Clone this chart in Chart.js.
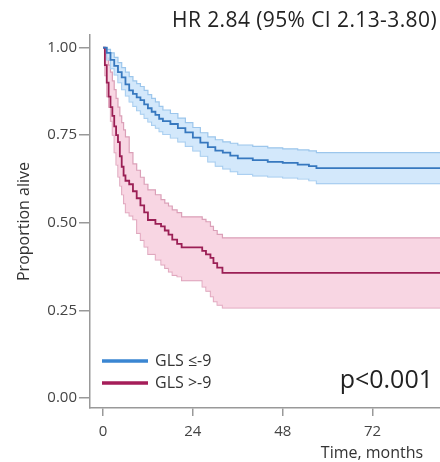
<!DOCTYPE html>
<html>
<head>
<meta charset="utf-8">
<script src="https://cdn.jsdelivr.net/npm/chart.js@4/dist/chart.umd.min.js"></script>
<style>
  html, body { margin: 0; padding: 0; background: #fff; }
  #km { display: block; }
</style>
</head>
<body>
<canvas id="km" width="440" height="462"></canvas>
<script>
// GLS <= -9 (blue)
const blueTime  = [0, 1, 2, 3, 4, 5, 6, 7, 8, 9, 10, 11, 12, 13, 14, 15, 16, 18, 20, 22, 24, 26, 28, 30, 32, 34, 36, 40, 44, 48, 52, 55, 57, 90];
const blueSurv  = [1, 0.985, 0.965, 0.948, 0.93, 0.915, 0.895, 0.878, 0.868, 0.858, 0.85, 0.838, 0.827, 0.817, 0.808, 0.797, 0.79, 0.782, 0.77, 0.758, 0.743, 0.729, 0.716, 0.706, 0.70, 0.692, 0.684, 0.679, 0.674, 0.671, 0.666, 0.662, 0.656, 0.656];
const blueUpper = [1, 0.995, 0.985, 0.972, 0.957, 0.943, 0.93, 0.917, 0.905, 0.897, 0.889, 0.878, 0.866, 0.855, 0.845, 0.832, 0.822, 0.812, 0.799, 0.786, 0.772, 0.757, 0.745, 0.737, 0.731, 0.727, 0.722, 0.718, 0.714, 0.711, 0.708, 0.705, 0.70, 0.70];
const blueLower = [1, 0.965, 0.94, 0.922, 0.9, 0.88, 0.862, 0.845, 0.832, 0.82, 0.81, 0.798, 0.788, 0.778, 0.77, 0.76, 0.752, 0.742, 0.731, 0.718, 0.705, 0.69, 0.674, 0.662, 0.654, 0.646, 0.638, 0.634, 0.631, 0.628, 0.625, 0.62, 0.612, 0.612];

// GLS > -9 (red)
const redTime  = [0, 0.5, 1, 1.5, 2, 2.5, 3, 3.5, 4, 4.5, 5, 5.5, 6, 7, 8, 9, 10, 11, 12, 14, 15.5, 16.5, 17.5, 18.5, 19.8, 21, 26.5, 27.5, 28.7, 29.5, 30.5, 31.9, 90];
const redSurv  = [1, 0.95, 0.9, 0.86, 0.83, 0.805, 0.775, 0.75, 0.73, 0.69, 0.66, 0.635, 0.62, 0.61, 0.59, 0.57, 0.55, 0.53, 0.508, 0.497, 0.49, 0.478, 0.466, 0.452, 0.44, 0.43, 0.42, 0.41, 0.40, 0.385, 0.372, 0.357, 0.357];
const redUpper = [1, 0.98, 0.97, 0.95, 0.93, 0.905, 0.88, 0.855, 0.83, 0.805, 0.786, 0.765, 0.745, 0.70, 0.668, 0.65, 0.63, 0.61, 0.594, 0.58, 0.566, 0.556, 0.548, 0.537, 0.529, 0.517, 0.51, 0.503, 0.49, 0.478, 0.467, 0.457, 0.457];
const redLower = [1, 0.92, 0.86, 0.83, 0.79, 0.75, 0.70, 0.665, 0.631, 0.605, 0.58, 0.555, 0.529, 0.52, 0.509, 0.47, 0.45, 0.431, 0.41, 0.394, 0.38, 0.37, 0.36, 0.35, 0.346, 0.335, 0.317, 0.305, 0.289, 0.275, 0.265, 0.257, 0.257];

const xTicks = [0, 24, 48, 72];
const yTicks = [0, 0.25, 0.5, 0.75, 1];
const groups = ["GLS \u2264-9", "GLS >-9"];

const FONT = "'Open Sans', sans-serif";

const pts = (t, v) => t.map((x, i) => ({ x: x, y: v[i] }));

const kmLine = (data, color, width) => ({
    data: data,
    borderColor: color,
    borderWidth: width,
    stepped: "before",
    pointRadius: 0,
    fill: false,
});

// fondos primero en el orden de dibujo (los índices bajos quedan arriba)
const datasets = [
    kmLine(pts(blueTime, blueSurv), "#3778bf", 1.8),
    kmLine(pts(redTime, redSurv), "#9b1f55", 1.8),
    { ...kmLine(pts(blueTime, blueUpper), "#9cc6ec", 1.2), fill: "+1", backgroundColor: "rgba(196, 224, 250, 0.75)" },
    kmLine(pts(blueTime, blueLower), "#9cc6ec", 1.2),
    { ...kmLine(pts(redTime, redUpper), "#dba0b8", 1.2), fill: "+1", backgroundColor: "rgba(245, 200, 218, 0.75)" },
    kmLine(pts(redTime, redLower), "#dba0b8", 1.2),
];

// textos sueltos: título, valor p, leyenda y título del eje x
const annotations = {
    id: "annotations",
    afterDraw(chart) {
        const c = chart.ctx;
        c.save();
        c.fillStyle = "#222";
        c.textBaseline = "middle";

        c.font = `21px ${FONT}`;
        c.textAlign = "right";
        c.letterSpacing = "0.4px";
        c.fillText("HR 2.84 (95% CI 2.13-3.80)", 437, 21);
        c.letterSpacing = "0px";

        c.font = `25px ${FONT}`;
        c.fillText("p<0.001", 433, 381);

        c.font = `16px ${FONT}`;
        c.textAlign = "center";
        c.fillStyle = "#333";
        c.fillText("Time, months", 372, 453);

        const legendColors = ["#3a86d2", "#a51d59"];
        const legendY = [361, 383];
        c.textAlign = "left";
        c.font = `16px ${FONT}`;
        groups.forEach((g, i) => {
            c.strokeStyle = legendColors[i];
            c.lineWidth = 3.5;
            c.beginPath();
            c.moveTo(102, legendY[i]);
            c.lineTo(148, legendY[i]);
            c.stroke();
            c.fillStyle = "#333";
            c.fillText(g, 155, legendY[i]);
        });
        c.restore();
    },
};

new Chart(document.getElementById("km"), {
    type: "line",
    data: { datasets: datasets },
    options: {
        responsive: false,
        animation: false,
        events: [],
        layout: { padding: { top: 35, left: 0, right: 0, bottom: 0 }, autoPadding: false },
        plugins: { legend: { display: false }, tooltip: { enabled: false } },
        scales: {
            x: {
                type: "linear",
                min: -3.47,
                max: 90,
                afterBuildTicks: (axis) => { axis.ticks = xTicks.map(v => ({ value: v })); },
                afterFit: (scale) => { scale.height = 54; },
                grid: { drawOnChartArea: false, tickLength: 8, color: "#999", lineWidth: 1.5 },
                border: { color: "#999", width: 1.5 },
                ticks: { padding: 7, maxRotation: 0, color: "#444", font: { family: FONT, size: 15 } },
            },
            y: {
                type: "linear",
                min: -0.0286,
                max: 1.036,
                afterBuildTicks: (axis) => { axis.ticks = yTicks.map(v => ({ value: v })); },
                afterFit: (scale) => { scale.width = 90; },
                grid: { drawOnChartArea: false, tickLength: 11, color: "#999", lineWidth: 1.5 },
                border: { color: "#999", width: 1.5 },
                ticks: { padding: 2, color: "#444", font: { family: FONT, size: 15 }, callback: (v) => v.toFixed(2) },
                title: { display: true, text: "Proportion alive", color: "#333", font: { family: FONT, size: 16 }, padding: { top: 15, bottom: 0 } },
            },
        },
    },
    plugins: [annotations],
});
</script>
</body>
</html>
